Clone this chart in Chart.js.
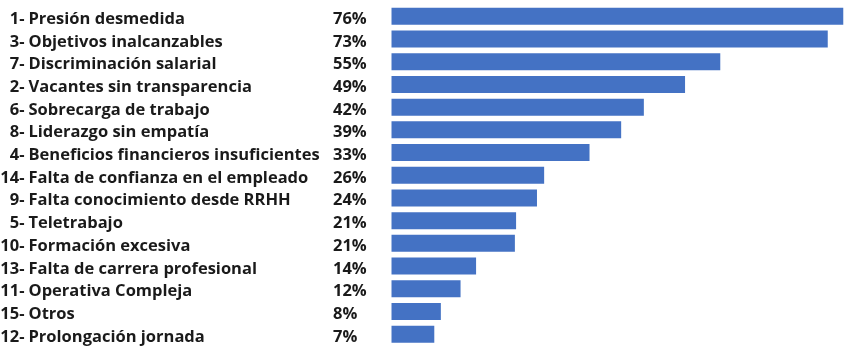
<!DOCTYPE html>
<html>
<head>
<meta charset="utf-8">
<script src="https://cdn.jsdelivr.net/npm/chart.js@4.4.1/dist/chart.umd.min.js"></script>
<style>
html,body{margin:0;padding:0;background:#fff;}
#wrap{width:862px;height:356px;position:relative;}
</style>
</head>
<body>
<div id="wrap"><canvas id="c" width="862" height="356"></canvas></div>
<script>
const numbers = ["1-","3-","7-","2-","6-","8-","4-","14-","9-","5-","10-","13-","11-","15-","12-"];
const categories = ["Presión desmedida","Objetivos inalcanzables","Discriminación salarial","Vacantes sin transparencia","Sobrecarga de trabajo","Liderazgo sin empatía","Beneficios financieros insuficientes","Falta de confianza en el empleado","Falta conocimiento desde RRHH","Teletrabajo","Formación excesiva","Falta de carrera profesional","Operativa Compleja","Otros","Prolongación jornada"];
const pctLabels = ["76%","73%","55%","49%","42%","39%","33%","26%","24%","21%","21%","14%","12%","8%","7%"];
const values = [75.7,73.1,55.1,49.2,42.3,38.5,33.2,25.6,24.4,20.9,20.7,14.2,11.6,8.3,7.2];

const labelPlugin = {
  id: 'rowLabels',
  afterDraw(chart) {
    const ctx = chart.ctx;
    const ys = chart.scales.y;
    ctx.save();
    ctx.font = 'bold 16.5px "Open Sans"';
    ctx.fillStyle = '#1a1a1a';
    ctx.textBaseline = 'alphabetic';
    categories.forEach((name, i) => {
      const y = ys.getPixelForValue(i) + 7.5;
      ctx.textAlign = 'right';
      ctx.fillText(numbers[i], 24.5, y);
      ctx.textAlign = 'left';
      ctx.fillText(name, 28.5, y);
      ctx.fillText(pctLabels[i], 333, y);
    });
    ctx.restore();
  }
};

new Chart(document.getElementById('c'), {
  type: 'bar',
  data: {
    labels: categories,
    datasets: [{
      data: values,
      backgroundColor: '#4472C4',
      borderWidth: 0,
      categoryPercentage: 1.0,
      barPercentage: 0.75
    }]
  },
  options: {
    indexAxis: 'y',
    responsive: false,
    animation: false,
    layout: { padding: { left: 391.3, right: 5, top: 5, bottom: 10.5 } },
    plugins: { legend: { display: false }, tooltip: { enabled: false } },
    scales: {
      x: { display: false, min: 0, max: 78 },
      y: { display: false }
    }
  },
  plugins: [labelPlugin]
});
</script>
</body>
</html>
